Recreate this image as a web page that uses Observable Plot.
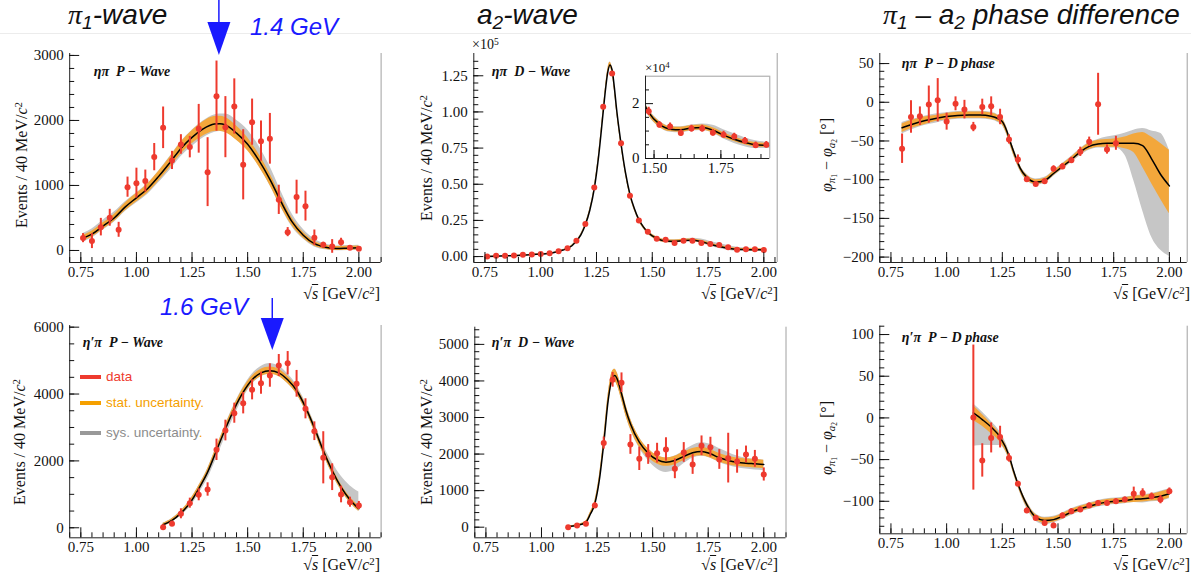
<!DOCTYPE html>
<html><head><meta charset="utf-8">
<script src="https://cdn.jsdelivr.net/npm/d3@7"></script>
<script src="https://cdn.jsdelivr.net/npm/@observablehq/plot@0.6"></script>
<style>
body{margin:0;background:#fff;}
#wrap{position:relative;width:1191px;height:579px;overflow:hidden;font-family:"Liberation Serif",serif;color:#111;}
.abs{position:absolute;white-space:nowrap;}
.ylab{position:absolute;white-space:nowrap;font-size:16px;line-height:16px;transform:translate(-50%,-50%) rotate(-90deg);}
.xlab{position:absolute;white-space:nowrap;font-size:16px;line-height:16px;}
.title{position:absolute;white-space:nowrap;font-family:"Liberation Sans",Arial,sans-serif;font-style:italic;font-size:28px;line-height:28px;color:#111;}
.blue{position:absolute;white-space:nowrap;font-family:"Liberation Sans",Arial,sans-serif;font-style:italic;font-size:24px;line-height:24px;color:#1a1aff;}
.leg{position:absolute;white-space:nowrap;font-family:"Liberation Sans",Arial,sans-serif;font-size:13.5px;line-height:14px;}
sup{font-size:0.68em;line-height:0;vertical-align:0.45em;}
sub{font-size:0.68em;line-height:0;vertical-align:-0.25em;}
.ov{text-decoration:overline;}
</style></head><body><div id="wrap"></div>
<script>
// ---------- data: ηπ P-wave (top-left) ----------
const p1x = [0.76,0.80,0.84,0.88,0.92,0.96,1.00,1.04,1.08,1.12,1.16,1.20,1.24,1.28,1.32,1.36,1.40,1.44,1.48,1.52,1.56,1.60,1.64,1.68,1.72,1.76,1.80,1.84,1.88,1.92,1.96,2.00];
const p1y = [190,144,359,503,318,974,1036,1067,1436,1887,1385,1631,1590,1872,1205,2374,1897,2215,1318,1974,1682,1718,779,282,821,682,195,87,62,128,41,26];
const p1e = [70,115,135,130,115,155,230,170,210,320,140,150,165,375,530,540,470,425,540,355,310,390,225,70,260,230,120,40,105,60,20,20];
const p1fx = [0.76,0.80,0.85,0.90,0.95,1.00,1.05,1.10,1.15,1.20,1.25,1.30,1.35,1.375,1.40,1.45,1.50,1.55,1.60,1.65,1.70,1.75,1.80,1.85,1.90,1.95,2.00];
const p1fy = [190,250,375,500,670,810,950,1140,1350,1570,1740,1870,1945,1950,1930,1805,1635,1390,1095,750,440,235,105,50,30,35,40];
const p1sw = [40,45,50,55,60,65,70,75,80,90,100,110,115,115,115,110,100,95,90,80,60,45,35,30,30,30,30];
const p1gu = [70,80,90,90,80,75,75,80,90,100,110,120,140,150,170,200,220,220,200,160,120,90,70,50,40,40,40];
const p1gd = [60,60,60,65,70,80,90,100,120,130,140,140,130,120,110,100,90,90,90,90,80,60,50,40,35,35,35];

// ---------- data: ηπ D-wave (top-middle, ×10^5) ----------
const p2x = p1x;
const p2y = [0.000,0.005,0.005,0.007,0.012,0.014,0.018,0.023,0.037,0.058,0.110,0.226,0.477,1.036,1.266,0.783,0.421,0.249,0.172,0.123,0.117,0.093,0.109,0.109,0.094,0.087,0.080,0.065,0.048,0.050,0.050,0.046];
const p2e = [0.002,0.002,0.002,0.002,0.002,0.002,0.002,0.002,0.003,0.003,0.004,0.005,0.006,0.008,0.009,0.008,0.006,0.005,0.015,0.012,0.012,0.012,0.012,0.012,0.012,0.012,0.012,0.012,0.012,0.012,0.012,0.012];
const p2fx = [0.76,0.80,0.90,1.00,1.05,1.10,1.14,1.18,1.20,1.22,1.24,1.26,1.28,1.29,1.30,1.31,1.32,1.33,1.34,1.36,1.38,1.40,1.42,1.44,1.46,1.48,1.52,1.56,1.60,1.64,1.68,1.72,1.76,1.80,1.84,1.88,1.92,1.96,2.00];
const p2fy = [0.000,0.003,0.008,0.017,0.025,0.045,0.075,0.150,0.220,0.320,0.470,0.700,1.000,1.150,1.270,1.325,1.290,1.170,1.020,0.780,0.580,0.430,0.330,0.255,0.205,0.168,0.125,0.107,0.105,0.111,0.113,0.103,0.085,0.070,0.058,0.050,0.048,0.047,0.046];
const p2sw = [0.001,0.001,0.001,0.002,0.002,0.003,0.004,0.005,0.006,0.008,0.010,0.012,0.015,0.016,0.018,0.018,0.018,0.017,0.016,0.014,0.012,0.011,0.010,0.010,0.010,0.010,0.010,0.009,0.009,0.009,0.009,0.009,0.009,0.008,0.008,0.008,0.007,0.007,0.007];
const p2gu = [0.002,0.002,0.002,0.003,0.003,0.004,0.005,0.007,0.008,0.010,0.012,0.015,0.018,0.019,0.021,0.021,0.021,0.020,0.019,0.017,0.015,0.014,0.013,0.013,0.012,0.012,0.012,0.011,0.011,0.011,0.013,0.018,0.020,0.020,0.018,0.015,0.012,0.010,0.009];
const p2gd = [0.002,0.002,0.002,0.003,0.003,0.004,0.005,0.007,0.008,0.010,0.012,0.015,0.018,0.019,0.021,0.021,0.021,0.020,0.019,0.017,0.015,0.014,0.013,0.013,0.012,0.012,0.012,0.011,0.011,0.011,0.011,0.011,0.014,0.015,0.015,0.014,0.012,0.010,0.010];

// ---------- data: ηπ P−D phase (top-right) ----------
const p3x = [0.80,0.84,0.88,0.92,0.96,1.00,1.04,1.08,1.12,1.16,1.20,1.24,1.28,1.32,1.36,1.40,1.44,1.48,1.52,1.56,1.60,1.64,1.68,1.72,1.76];
const p3y = [-60,-19,-18,-3,2.6,-25,-2,-9.5,-32,-6,-5,-19,-48,-74,-99.6,-105.6,-102,-86,-83,-75,-64,-51,-2.6,-61,-53];
const p3e = [19,21,12,24,28,11,9,12,6,10,12,10,6,6,3,3,3,4,4,4,6,6,40,6,9];
const p3fx = [0.80,0.85,0.90,0.95,1.00,1.05,1.10,1.15,1.20,1.23,1.25,1.27,1.29,1.31,1.33,1.36,1.40,1.44,1.48,1.52,1.56,1.60,1.64,1.68,1.72,1.76,1.80,1.84,1.88,1.92,1.96,2.00];
const p3fy = [-33,-28,-24,-21,-18.5,-17,-16.5,-16.5,-18,-21,-25,-37,-55,-71,-85,-97,-103,-101,-92,-83,-74,-64,-57,-54,-53,-53,-53,-53,-56,-73,-93,-108];
const p3su = [5,5,5,4,4,4,4,4,4,4,4,4,4,4,3,3,3,3,3,3,3,3,4,5,5,6,8,12,17,28,40,46];
const p3sd = [6,5,5,4,4,4,4,4,4,4,4,4,4,4,3,3,3,3,3,3,3,3,4,4,5,5,7,12,28,32,32,36];
const p3gu = [7,6,6,6,5,5,5,5,5,5,5,5,5,5,4,4,4,4,4,4,4,4,5,6,8,10,13,17,22,36,53,46];
const p3gd = [8,7,6,6,5,5,5,5,5,5,5,5,5,5,4,4,4,4,4,4,4,5,5,5,6,6,15,48,84,101,98,91];

// ---------- data: η'π P-wave (bottom-left) ----------
const p4x = [1.12,1.16,1.20,1.24,1.28,1.32,1.36,1.40,1.44,1.48,1.52,1.56,1.60,1.64,1.68,1.72,1.76,1.80,1.84,1.88,1.92,1.96,2.00];
const p4y = [18,120,419,736,987,1145,2332,2909,3427,3726,4126,4324,4554,4853,4921,4306,3558,2888,2093,1513,996,765,667];
const p4e = [60,80,150,150,180,200,320,310,300,320,300,330,350,330,350,400,300,280,780,400,250,150,120];
const p4fy = [90,218,437,737,1166,1663,2311,2960,3558,4054,4425,4635,4700,4635,4425,4105,3607,2990,2311,1713,1215,837,568];
const p4sw = [40,50,60,70,80,90,100,100,100,110,110,110,110,110,110,100,100,100,100,100,90,80,80];
const p4gu = [50,60,70,80,90,100,110,120,130,150,170,190,210,200,180,160,150,150,170,250,330,420,500];
const p4gd = [50,60,80,120,160,200,240,240,220,180,140,120,110,110,110,110,110,110,110,110,100,90,80];

// ---------- data: η'π D-wave (bottom-middle) ----------
const p5x = p4x;
const p5y = [0,46,91,593,2300,4030,3950,2263,1870,1989,2025,2126,1597,2044,1715,2226,2190,1852,1889,1797,1989,1870,1442];
const p5e = [15,20,30,80,165,200,270,270,320,270,270,320,270,270,270,270,270,270,680,320,230,230,180];
const p5fx = [1.12,1.16,1.20,1.22,1.24,1.26,1.28,1.30,1.32,1.33,1.34,1.36,1.38,1.40,1.44,1.48,1.52,1.56,1.60,1.64,1.68,1.72,1.76,1.80,1.84,1.88,1.92,1.96,2.00];
const p5fy = [20,46,137,360,640,1278,2282,3468,4105,4152,4061,3651,3194,2830,2326,2025,1844,1779,1826,1935,2036,2072,2009,1899,1826,1779,1752,1735,1716];
const p5sw = [15,20,30,50,70,100,130,160,170,170,170,160,150,140,130,120,115,115,115,115,115,115,115,115,115,115,115,115,115];
const p5gu = [15,20,30,50,70,100,130,160,170,170,170,160,150,140,130,120,115,115,120,150,200,240,260,250,220,170,140,120,115];
const p5gd = [15,20,30,50,70,100,130,160,170,170,170,160,150,150,160,200,250,280,270,200,150,130,120,130,140,150,160,170,170];

// ---------- data: η'π P−D phase (bottom-right) ----------
const p6x = p4x;
const p6y = [0.4,-51,-24,-23,-48,-79,-111,-120,-126,-129,-117,-112,-110,-105,-102,-102,-100,-98,-91,-90,-94,-98,-88];
const p6e = [87,20,18,13,5,3,3,3,3,3,3,3,3,3,3,3,3,3,8,5,4,5,4];
const p6fx = [1.12,1.16,1.20,1.24,1.28,1.30,1.32,1.36,1.40,1.44,1.48,1.52,1.56,1.60,1.64,1.68,1.72,1.76,1.80,1.84,1.88,1.92,1.96,2.00];
const p6fy = [6,-2,-11,-23,-45,-63,-79,-104,-119,-123,-122,-118,-113,-109,-106,-103,-101,-100,-99,-97.6,-97,-95.6,-94,-91];
const p6su = [9,6,4,3,3,3,3,3,3,3,3,3,3,3,3,3,3,3,3,4,4,4,5,5];
const p6sd = [9,8,8,6,4,3,3,3,3,3,3,3,3,3,3,3,3,3,3,4,4,4,5,5];
const p6gu = [11,9,7,6,5,4,4,4,4,4,4,4,4,4,4,4,4,4,4,4,5,5,6,6];
const p6gd = [40,31,22,10,5,4,4,5,5,5,4,4,4,4,4,4,4,4,4,4,5,5,6,6];

// ---------- ticks & annotations ----------
const xMajor = [0.75,1.00,1.25,1.50,1.75,2.00];
const y1Major = [0,1000,2000,3000];
const y2Major = [0,0.25,0.50,0.75,1.00,1.25];
const y3Major = [-200,-150,-100,-50,0,50];
const y4Major = [0,2000,4000,6000];
const y5Major = [0,1000,2000,3000,4000,5000];
const y6Major = [-100,-50,0,50,100];
const insetXMajor = [1.50,1.75];
const insetYMajor = [0,2];
const arrowX = [1.373, 1.613];   // GeV positions of the blue arrows

const RED = "#ee3a2e", ORANGE = "#f3a73b", GRAY = "#c6c6c6", BLUE = "#1a1aff";
const W = 1191, H = 579;
const SERIF = "Liberation Serif";

function fitRows(xs, ys, su, sd, gu, gd, k = 1) {
  return xs.map((x, i) => ({x, y: ys[i] * k, sLo: (ys[i] - sd[i]) * k, sHi: (ys[i] + su[i]) * k,
    gLo: (ys[i] - gd[i]) * k, gHi: (ys[i] + gu[i]) * k}));
}
function ptRows(xs, ys, es, k = 1) {
  return xs.map((x, i) => ({x, y: ys[i] * k, lo: (ys[i] - es[i]) * k, hi: (ys[i] + es[i]) * k}));
}

function panel(c) {
  const [L, R, T, B] = c.frame;
  const clip = !!c.clip;
  const tM = c.tickMaj || 10, tm = c.tickMin || 5;
  const fs = c.fs || 15;
  const curve = "monotone-x";
  const font = {fontFamily: SERIF, fontSize: fs};
  const marks = [
    c.white ? Plot.frame({fill: "white", stroke: "none"}) : null,
    Plot.areaY(c.fit, {x: "x", y1: "gLo", y2: "gHi", fill: GRAY, curve, clip}),
    Plot.areaY(c.fit, {x: "x", y1: "sLo", y2: "sHi", fill: ORANGE, curve, clip}),
    Plot.line(c.fit, {x: "x", y: "y", stroke: "#000", strokeWidth: 1.5, curve, clip}),
    Plot.ruleX(c.pts, {x: "x", y1: "lo", y2: "hi", stroke: RED, strokeWidth: 2, clip}),
    Plot.dot(c.pts, {x: "x", y: "y", r: 3, fill: RED, clip}),
    Plot.ruleX([c.xd[1]], {stroke: "#a0a0a0", strokeWidth: 1}),
    c.topLine ? Plot.ruleY([c.yd[1]], {stroke: "#a0a0a0", strokeWidth: 1}) : null,
    Plot.ruleX([c.xd[0]], {stroke: "#222", strokeWidth: 1}),
    Plot.ruleY([c.yd[0]], {stroke: "#222", strokeWidth: 1}),
    Plot.axisX({ticks: c.xMajor, tickSize: -tM, tickPadding: tM + 4, tickFormat: d3.format(".2f"), label: null, ...font}),
    Plot.axisX({ticks: c.xMinor, tickSize: -tm, tickFormat: () => "", label: null}),
    Plot.axisY({ticks: c.yMajor, tickSize: -tM, tickPadding: tM + 6, tickFormat: c.yFmt, label: null, ...font}),
    Plot.axisY({ticks: c.yMinor, tickSize: -tm, tickFormat: () => "", label: null}),
    c.label ? Plot.text([c.label], {text: d => d, frameAnchor: "top-left", dx: c.lab[0], dy: c.lab[1],
      textAnchor: "start", lineAnchor: "middle", fontFamily: SERIF, fontWeight: "bold",
      fontStyle: "italic", fontSize: 14}) : null
  ].filter(Boolean);
  const svg = Plot.plot({
    width: W, height: H,
    marginLeft: L, marginRight: W - R, marginTop: T, marginBottom: H - B,
    x: {domain: c.xd}, y: {domain: c.yd},
    style: {background: "transparent", overflow: "visible", fontFamily: SERIF, fontSize: fs + "px", color: "#111"},
    marks
  });
  svg.style.position = "absolute"; svg.style.left = "0px"; svg.style.top = "0px";
  return svg;
}

const xMinorA = d3.range(0.70, 2.1001, 0.05).map(v => +v.toFixed(2));
const nb = "\u00a0";
const cfgs = [
  {frame: [69.2, 380.6, 53, 262], xd: [0.7, 2.1], yd: [-185, 3030], xMajor, xMinor: xMinorA,
   yMajor: y1Major, yMinor: d3.range(0, 3001, 200), yFmt: d3.format("d"),
   fit: fitRows(p1fx, p1fy, p1sw, p1sw, p1gu, p1gd), pts: ptRows(p1x, p1y, p1e),
   label: "ηπ" + nb + nb + "P − Wave", lab: [24, 18]},
  {frame: [473.3, 776.7, 53, 262], xd: [0.7, 2.06], yd: [-0.041, 1.404], xMajor, xMinor: xMinorA.filter(v => v <= 2.06),
   yMajor: y2Major, yMinor: d3.range(0, 1.40, 0.05), yFmt: d3.format(".2f"),
   fit: fitRows(p2fx, p2fy, p2sw, p2sw, p2gu, p2gd), pts: ptRows(p2x, p2y, p2e),
   label: "ηπ" + nb + nb + "D − Wave", lab: [18, 18]},
  {frame: [879.3, 1186.7, 53, 262], xd: [0.7, 2.08], yd: [-207, 63], xMajor, xMinor: xMinorA.filter(v => v <= 2.08),
   yMajor: y3Major, yMinor: d3.range(-200, 51, 10), yFmt: d3.format("d"),
   fit: fitRows(p3fx, p3fy, p3su, p3sd, p3gu, p3gd), pts: ptRows(p3x, p3y, p3e),
   label: "ηπ" + nb + nb + "P − D phase", lab: [22, 10]},
  {frame: [69.2, 380.6, 325, 537.3], xd: [0.7, 2.1], yd: [-300, 6050], xMajor, xMinor: xMinorA,
   yMajor: y4Major, yMinor: d3.range(0, 6001, 500), yFmt: d3.format("d"),
   fit: fitRows(p4x, p4fy, p4sw, p4sw, p4gu, p4gd), pts: ptRows(p4x, p4y, p4e),
   label: "η′π" + nb + nb + "P − Wave", lab: [13, 17]},
  {frame: [474.3, 785.5, 326.7, 537.3], xd: [0.7, 2.1], yd: [-290, 5470], xMajor, xMinor: xMinorA,
   yMajor: y5Major, yMinor: d3.range(0, 5401, 200), yFmt: d3.format("d"),
   fit: fitRows(p5fx, p5fy, p5sw, p5sw, p5gu, p5gd), pts: ptRows(p5x, p5y, p5e),
   label: "η′π" + nb + nb + "D − Wave", lab: [17, 15]},
  {frame: [879.3, 1186.7, 325.7, 533.3], xd: [0.7, 2.08], yd: [-139, 110], xMajor, xMinor: xMinorA.filter(v => v <= 2.08),
   yMajor: y6Major, yMinor: d3.range(-130, 111, 10), yFmt: d3.format("d"),
   fit: fitRows(p6fx, p6fy, p6su, p6sd, p6gu, p6gd), pts: ptRows(p6x, p6y, p6e),
   label: "η′π" + nb + nb + "P − D phase", lab: [22, 11]},
  // inset of ηπ D-wave (×10^4)
  {frame: [645, 769.3, 75.7, 158], xd: [1.468, 1.933], yd: [0, 3.0], xMajor: insetXMajor,
   xMinor: d3.range(1.50, 1.931, 0.05), yMajor: insetYMajor, yMinor: [0.5, 1, 1.5, 2.5], yFmt: d3.format("d"),
   fit: fitRows(p2fx, p2fy, p2sw, p2sw, p2gu, p2gd, 10), pts: ptRows(p2x, p2y, p2e, 10),
   clip: true, white: true, topLine: true, tickMaj: 8, tickMin: 4}
];

const wrap = document.getElementById("wrap");
// faint slide separator
const sep = document.createElement("div");
sep.className = "abs"; Object.assign(sep.style, {left: "0px", top: "33px", width: "1191px", height: "1px", background: "#ececec"});
wrap.appendChild(sep);

const charts = cfgs.map(c => { const s = panel(c); wrap.appendChild(s); return s; });

function add(cls, html, css) {
  const d = document.createElement("div"); d.className = cls; d.innerHTML = html;
  Object.assign(d.style, css); wrap.appendChild(d); return d;
}
const evLab = "Events / 40 MeV/<i>c</i><sup>2</sup>";
const phLab = "<i>φ</i><sub><i>π</i><sub>1</sub></sub> − <i>φ</i><sub><i>a</i><sub>2</sub></sub> [°]";
const sLab = "√<span class='ov'><i>s</i></span> [GeV/<i>c</i><sup>2</sup>]";
add("ylab", evLab, {left: "22px", top: "165px"});
add("ylab", evLab, {left: "20px", top: "442px"});
add("ylab", evLab, {left: "427px", top: "158px"});
add("ylab", evLab, {left: "427px", top: "442px"});
add("ylab", phLab, {left: "827px", top: "155px"});
add("ylab", phLab, {left: "827px", top: "438px"});
[[380, 285.5], [778, 285.5], [1190, 285.5], [380, 557], [778, 557], [1190, 557]].forEach(([r, t]) =>
  add("xlab", sLab, {right: (W - r) + "px", top: t + "px"}));
add("abs", "×10<sup>5</sup>", {left: "472px", top: "38px", fontSize: "14px", lineHeight: "14px"});
add("abs", "×10<sup>4</sup>", {left: "645px", top: "61px", fontSize: "13px", lineHeight: "13px"});

add("title", "<span style='font-family:\"Liberation Serif\"'>π</span><sub>1</sub>-wave", {left: "68px", top: "1px"});
add("title", "a<sub>2</sub>-wave", {left: "477px", top: "1px"});
add("title", "<span style='font-family:\"Liberation Serif\"'>π</span><sub>1</sub> – a<sub>2</sub> phase difference", {left: "883px", top: "1px"});
add("blue", "1.4 GeV", {left: "250px", top: "14.7px"});
add("blue", "1.6 GeV", {left: "160px", top: "294.7px"});

// legend (η'π P-wave panel)
const legItems = [
  {y: 377, color: RED, html: "<span style='color:" + RED + "'>data</span>"},
  {y: 403, color: "#f5a000", html: "<span style='color:#f5a000'>stat. uncertainty.</span>"},
  {y: 433, color: "#999", html: "<span style='color:#8c8c8c'>sys. uncertainty</span><span style='color:#f5a000'>.</span>"}
];
legItems.forEach(it => {
  add("abs", "", {left: "80px", top: (it.y - 1.75) + "px", width: "21px", height: "3.5px", background: it.color});
  add("leg", it.html, {left: "106px", top: (it.y - 7) + "px"});
});

// blue arrows placed with the panels' own x scales
const ov = d3.select(wrap).append("svg").attr("width", W).attr("height", H)
  .style("position", "absolute").style("left", "0px").style("top", "0px");
function arrow(x, y0, y1, y2) {
  ov.append("line").attr("x1", x).attr("x2", x).attr("y1", y0).attr("y2", y1 + 2).attr("stroke", BLUE).attr("stroke-width", 1.5);
  ov.append("path").attr("d", `M${x - 11.5},${y1}L${x + 11.5},${y1}L${x},${y2}Z`).attr("fill", BLUE);
}
arrow(charts[0].scale("x").apply(arrowX[0]), 0, 22, 55);
arrow(charts[3].scale("x").apply(arrowX[1]), 298, 318, 350);
</script></body></html>
